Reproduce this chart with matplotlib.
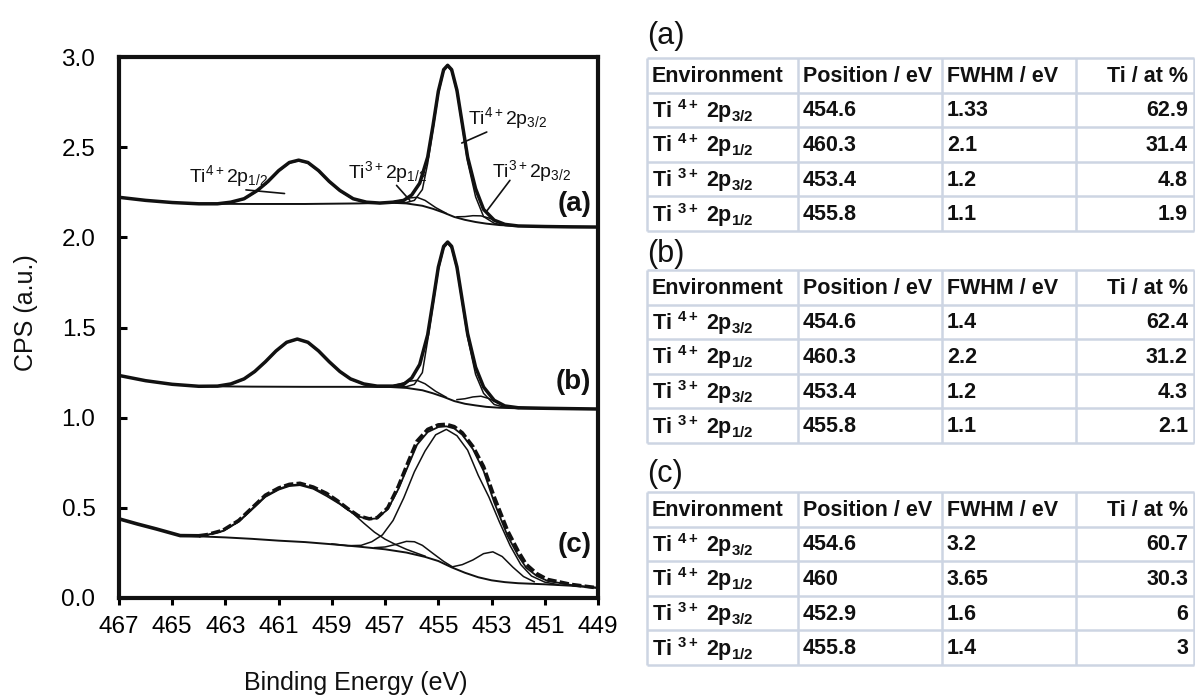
import numpy as np
import matplotlib
matplotlib.use("Agg")
import matplotlib.pyplot as plt

plt.rcParams.update({
    "font.family": ["Liberation Sans", "DejaVu Sans"],
    "mathtext.fontset": "custom",
    "mathtext.rm": "Liberation Sans",
    "mathtext.it": "Liberation Sans:italic",
    "mathtext.bf": "Liberation Sans:bold",
    "mathtext.default": "regular",
})

W, H = 1195, 698
INK = "#111111"
GRID_C = "#CDD5E3"

# --- spectrum (a) ---
A_DATA_E = [467.0, 466.0, 465.0, 464.0, 463.3, 462.8, 462.3, 461.8, 461.4, 461.0,
            460.6, 460.25, 459.9, 459.5, 459.1, 458.7, 458.2, 457.7, 457.2, 456.7,
            456.3, 456.0, 455.7, 455.4, 455.2, 455.0, 454.8, 454.65, 454.5, 454.3,
            454.1, 453.9, 453.6, 453.3, 452.9, 452.5, 452.0, 451.0, 450.0, 449.0]
A_DATA_V = [2.222, 2.205, 2.193, 2.186, 2.186, 2.195, 2.214, 2.26, 2.31, 2.37,
            2.415, 2.428, 2.415, 2.37, 2.31, 2.26, 2.214, 2.195, 2.19, 2.195,
            2.205, 2.235, 2.30, 2.445, 2.62, 2.81, 2.93, 2.954, 2.93, 2.815,
            2.63, 2.445, 2.27, 2.155, 2.095, 2.072, 2.063, 2.06, 2.058, 2.057]
A_BG_E = [463.5, 462.0, 460.0, 458.0, 456.8, 456.2, 455.6, 455.2, 454.8, 454.4,
          454.0, 453.6, 453.2, 452.7, 452.0, 449.0]
A_BG_V = [2.186, 2.185, 2.185, 2.188, 2.192, 2.188, 2.175, 2.158, 2.137, 2.113,
          2.097, 2.085, 2.076, 2.068, 2.063, 2.057]
A_P12_E = [462.8, 462.3, 461.8, 461.4, 461.0, 460.6, 460.25, 459.9, 459.5, 459.1,
           458.7, 458.2, 457.7]
A_P12_V = [2.193, 2.212, 2.257, 2.307, 2.367, 2.412, 2.425, 2.412, 2.367, 2.307,
           2.257, 2.212, 2.193]
A_P32_E = [456.6, 456.2, 455.9, 455.6, 455.4, 455.2, 455.0, 454.8, 454.65, 454.5,
           454.3, 454.1, 453.9, 453.6, 453.3, 452.9, 452.5, 452.0]
A_P32_V = [2.191, 2.193, 2.205, 2.265, 2.41, 2.60, 2.795, 2.922, 2.948, 2.922,
           2.805, 2.615, 2.42, 2.225, 2.115, 2.078, 2.066, 2.063]
A_T12_E = [456.7, 456.4, 456.1, 455.8, 455.5, 455.1, 454.7]
A_T12_V = [2.197, 2.205, 2.218, 2.222, 2.205, 2.165, 2.133]
A_T32_E = [454.3, 454.0, 453.7, 453.4, 453.1, 452.8, 452.5]
A_T32_V = [2.114, 2.115, 2.12, 2.119, 2.107, 2.088, 2.073]

# --- spectrum (b) ---
B_DATA_E = [467.0, 466.0, 465.0, 464.0, 463.3, 462.8, 462.3, 461.9, 461.5, 461.1,
            460.7, 460.3, 459.9, 459.5, 459.1, 458.7, 458.3, 457.8, 457.3, 456.7,
            456.3, 456.0, 455.7, 455.4, 455.2, 455.0, 454.8, 454.65, 454.5, 454.3,
            454.1, 453.9, 453.6, 453.3, 452.9, 452.5, 452.0, 451.0, 450.0, 449.0]
B_DATA_V = [1.234, 1.205, 1.185, 1.174, 1.175, 1.187, 1.215, 1.256, 1.31, 1.37,
            1.418, 1.436, 1.418, 1.37, 1.31, 1.256, 1.215, 1.187, 1.175, 1.175,
            1.185, 1.22, 1.295, 1.46, 1.645, 1.835, 1.95, 1.974, 1.95, 1.835,
            1.65, 1.466, 1.28, 1.17, 1.096, 1.065, 1.055, 1.052, 1.05, 1.048]
B_BG_E = [463.5, 462.0, 460.0, 458.0, 456.8, 456.2, 455.6, 455.2, 454.8, 454.4,
          454.0, 453.6, 453.2, 452.7, 452.0, 449.0]
B_BG_V = [1.174, 1.172, 1.171, 1.171, 1.17, 1.165, 1.152, 1.135, 1.115, 1.092,
          1.077, 1.068, 1.06, 1.055, 1.052, 1.048]
B_P12_E = [462.8, 462.3, 461.9, 461.5, 461.1, 460.7, 460.3, 459.9, 459.5, 459.1,
           458.7, 458.3, 457.8, 457.3]
B_P12_V = [1.185, 1.213, 1.254, 1.308, 1.368, 1.416, 1.434, 1.416, 1.368, 1.308,
           1.254, 1.213, 1.185, 1.173]
B_P32_E = [456.6, 456.2, 455.9, 455.6, 455.4, 455.2, 455.0, 454.8, 454.65, 454.5,
           454.3, 454.1, 453.9, 453.6, 453.3, 452.9, 452.5, 452.0]
B_P32_V = [1.17, 1.172, 1.185, 1.25, 1.43, 1.625, 1.82, 1.94, 1.966, 1.94,
           1.825, 1.635, 1.445, 1.24, 1.135, 1.073, 1.057, 1.052]
B_T12_E = [456.7, 456.4, 456.1, 455.8, 455.5, 455.1, 454.7]
B_T12_V = [1.177, 1.189, 1.202, 1.207, 1.188, 1.146, 1.113]
B_T32_E = [454.3, 454.0, 453.7, 453.4, 453.1, 452.8, 452.5]
B_T32_V = [1.100, 1.105, 1.115, 1.119, 1.106, 1.085, 1.066]

# --- spectrum (c) ---
C_DATA_E = [467.0, 466.3, 465.6, 464.7, 464.0, 463.7, 463.1, 462.5, 462.0, 461.5,
            461.0, 460.6, 460.2, 459.7, 459.2, 458.8, 458.4, 458.0, 457.6, 457.3,
            456.9, 456.5, 456.1, 455.8, 455.4, 455.0, 454.7, 454.4, 454.1, 453.7,
            453.3, 452.9, 452.4, 452.0, 451.7, 451.3, 450.9, 450.0, 449.0]
C_DATA_V = [0.439, 0.41, 0.383, 0.346, 0.345, 0.351, 0.375, 0.43, 0.50, 0.57,
            0.61, 0.63, 0.636, 0.615, 0.58, 0.54, 0.495, 0.455, 0.439, 0.445,
            0.50, 0.62, 0.766, 0.87, 0.935, 0.96, 0.963, 0.95, 0.916, 0.84,
            0.729, 0.56, 0.374, 0.26, 0.187, 0.135, 0.103, 0.075, 0.056]
C_ENV_E = [464.7, 464.0, 463.7, 463.1, 462.5, 462.0, 461.5, 461.0, 460.6, 460.2,
           459.7, 459.2, 458.8, 458.4, 458.0, 457.6, 457.3, 456.9, 456.5, 456.1,
           455.8, 455.4, 455.0, 454.7, 454.4, 454.1, 453.7, 453.3, 452.9, 452.4,
           452.0, 451.7, 451.3, 450.9, 450.0, 449.0]
C_ENV_V = [0.346, 0.345, 0.35, 0.372, 0.425, 0.495, 0.565, 0.605, 0.625, 0.63,
           0.61, 0.575, 0.535, 0.49, 0.452, 0.437, 0.442, 0.492, 0.605, 0.745,
           0.85, 0.92, 0.948, 0.952, 0.94, 0.905, 0.825, 0.705, 0.53, 0.345,
           0.235, 0.168, 0.122, 0.095, 0.072, 0.056]
C_BG_E = [464.7, 464.0, 463.0, 462.0, 461.0, 460.0, 459.0, 458.0, 457.0, 456.2,
          455.5, 455.0, 454.5, 454.0, 453.5, 453.0, 452.5, 452.0, 451.0, 450.0, 449.0]
C_BG_V = [0.346, 0.342, 0.336, 0.328, 0.318, 0.31, 0.298, 0.285, 0.27, 0.252,
          0.228, 0.205, 0.17, 0.14, 0.115, 0.098, 0.088, 0.082, 0.076, 0.068, 0.056]
C_P12_E = [464.5, 463.7, 463.1, 462.5, 462.0, 461.5, 461.0, 460.6, 460.2, 459.7,
           459.2, 458.7, 458.2, 457.8, 457.4, 457.0, 456.6, 456.2, 455.8, 455.5]
C_P12_V = [0.345, 0.349, 0.37, 0.422, 0.49, 0.56, 0.60, 0.62, 0.625, 0.605,
           0.565, 0.52, 0.468, 0.415, 0.365, 0.326, 0.296, 0.27, 0.248, 0.232]
C_P32_E = [459.0, 458.4, 457.9, 457.5, 457.1, 456.7, 456.3, 455.9, 455.5, 455.1,
           454.7, 454.3, 453.9, 453.5, 453.1, 452.7, 452.3, 451.9, 451.5, 451.0, 450.5]
C_P32_V = [0.30, 0.29, 0.292, 0.312, 0.35, 0.43, 0.555, 0.70, 0.815, 0.905,
           0.935, 0.90, 0.82, 0.68, 0.56, 0.42, 0.29, 0.185, 0.122, 0.088, 0.074]
C_T12_E = [457.4, 457.0, 456.6, 456.2, 455.9, 455.6, 455.2, 454.8, 454.45]
C_T12_V = [0.279, 0.283, 0.297, 0.314, 0.312, 0.292, 0.247, 0.203, 0.171]
C_T32_E = [454.5, 454.1, 453.7, 453.3, 452.95, 452.6, 452.2, 451.8, 451.4]
C_T32_V = [0.172, 0.185, 0.211, 0.246, 0.256, 0.23, 0.171, 0.119, 0.09]

X_TICKS = [467, 465, 463, 461, 459, 457, 455, 453, 451, 449]
Y_TICKS = [0.0, 0.5, 1.0, 1.5, 2.0, 2.5, 3.0]

# --- tables ---
HEADER = ["Environment", "Position / eV", "FWHM / eV", "Ti / at %"]
ENV = [r"Ti $^{\mathbf{4+}}$ 2p$_{3/2}$", r"Ti $^{\mathbf{4+}}$ 2p$_{1/2}$",
       r"Ti $^{\mathbf{3+}}$ 2p$_{3/2}$", r"Ti $^{\mathbf{3+}}$ 2p$_{1/2}$"]
POS_A = ["454.6", "460.3", "453.4", "455.8"]
FWHM_A = ["1.33", "2.1", "1.2", "1.1"]
AT_A = ["62.9", "31.4", "4.8", "1.9"]
POS_B = ["454.6", "460.3", "453.4", "455.8"]
FWHM_B = ["1.4", "2.2", "1.2", "1.1"]
AT_B = ["62.4", "31.2", "4.3", "2.1"]
POS_C = ["454.6", "460", "452.9", "455.8"]
FWHM_C = ["3.2", "3.65", "1.6", "1.4"]
AT_C = ["60.7", "30.3", "6", "3"]

fig = plt.figure(figsize=(W / 100, H / 100), dpi=100)

# table layer (pixel coordinates)
tax = fig.add_axes([0, 0, 1, 1])
tax.set_xlim(0, W)
tax.set_ylim(H, 0)
tax.axis("off")

COL_X = [647, 798, 942, 1076, 1194]
ROW_H = 34.6
tables = [("(a)", 36, 58, POS_A, FWHM_A, AT_A),
          ("(b)", 254, 270, POS_B, FWHM_B, AT_B),
          ("(c)", 474, 492, POS_C, FWHM_C, AT_C)]
for title, ty, top, pos, fw, at in tables:
    ys = top + ROW_H * np.arange(6)
    tax.hlines(ys, COL_X[0], COL_X[-1], color=GRID_C, lw=1.8)
    tax.vlines(COL_X, ys[0], ys[-1], color=GRID_C, lw=1.8)
    tax.text(COL_X[0], ty, title, fontsize=22, va="center", ha="left", color=INK)
    rows = [HEADER] + [[ENV[i], pos[i], fw[i], at[i]] for i in range(4)]
    for r, row in enumerate(rows):
        yc = (ys[r] + ys[r + 1]) / 2 + 1
        for c, txt in enumerate(row):
            if c == 3:
                tax.text(COL_X[4] - 6, yc, txt, ha="right", va="center",
                         fontsize=15.5, fontweight="bold", color=INK)
            else:
                tax.text(COL_X[c] + 5, yc, txt, ha="left", va="center",
                         fontsize=15.5, fontweight="bold", color=INK)

# spectra
ax = fig.add_axes([119 / W, 1 - 598 / H, (598 - 119) / W, (598 - 57) / H])
thin = dict(color=INK, lw=1.1)
for bg_e, bg_v, comps in [
        (A_BG_E, A_BG_V, [(A_P12_E, A_P12_V), (A_P32_E, A_P32_V), (A_T12_E, A_T12_V), (A_T32_E, A_T32_V)]),
        (B_BG_E, B_BG_V, [(B_P12_E, B_P12_V), (B_P32_E, B_P32_V), (B_T12_E, B_T12_V), (B_T32_E, B_T32_V)]),
        (C_BG_E, C_BG_V, [(C_P12_E, C_P12_V), (C_P32_E, C_P32_V), (C_T12_E, C_T12_V), (C_T32_E, C_T32_V)])]:
    ax.plot(bg_e, bg_v, color=INK, lw=1.4)
    for e, v in comps:
        ax.plot(e, v, **thin)

ax.plot(A_DATA_E, A_DATA_V, color=INK, lw=2.5, solid_joinstyle="round")
ax.plot(B_DATA_E, B_DATA_V, color=INK, lw=2.5, solid_joinstyle="round")
ax.plot(C_ENV_E, C_ENV_V, color=INK, lw=1.3)
ax.plot(C_DATA_E[:5], C_DATA_V[:5], color=INK, lw=2.6)
ax.plot(C_DATA_E[4:], C_DATA_V[4:], color=INK, lw=2.6, ls=(0, (2.6, 0.9)))

# peak labels with leader lines
lab = dict(fontsize=14, color=INK, va="baseline", ha="left")
ax.text(464.37, 2.308, r"Ti$^{4+}$2p$_{1/2}$", **lab)
ax.text(458.39, 2.33, r"Ti$^{3+}$2p$_{1/2}$", **lab)
ax.text(453.88, 2.63, r"Ti$^{4+}$2p$_{3/2}$", **lab)
ax.text(453.0, 2.335, r"Ti$^{3+}$2p$_{3/2}$", **lab)
lead = dict(arrowprops=dict(arrowstyle="-", color=INK, lw=1.2, shrinkA=0, shrinkB=0))
ax.annotate("", xy=(460.78, 2.243), xytext=(462.23, 2.263), **lead)
ax.annotate("", xy=(456.07, 2.205), xytext=(456.57, 2.288), **lead)
ax.annotate("", xy=(454.12, 2.523), xytext=(453.18, 2.584), **lead)
ax.annotate("", xy=(453.18, 2.146), xytext=(452.31, 2.316), **lead)

pan = dict(fontsize=20, fontweight="bold", color=INK, ha="right", va="center")
ax.text(449.25, 2.185, "(a)", **pan)
ax.text(449.25, 1.198, "(b)", **pan)
ax.text(449.25, 0.295, "(c)", **pan)

ax.set_xlim(467, 449)
ax.set_ylim(0, 3.0)
ax.set_xticks(X_TICKS)
ax.set_xticklabels([str(t) for t in X_TICKS])
ax.set_yticks(Y_TICKS)
ax.set_yticklabels([f"{t:.1f}" for t in Y_TICKS])
ax.tick_params(axis="x", direction="out", length=5, width=2.2, labelsize=17.5, pad=8)
ax.tick_params(axis="y", direction="in", length=6, width=2.2, labelsize=17.5, pad=17)
for s in ax.spines.values():
    s.set_linewidth(3.0)
    s.set_color(INK)
ax.patch.set_alpha(0)

fig.text(26 / W, 1 - 313 / H, "CPS (a.u.)", rotation=90, fontsize=18,
         ha="center", va="center", color=INK)
fig.text(356 / W, 1 - 683 / H, "Binding Energy (eV)", fontsize=18,
         ha="center", va="center", color=INK)

fig.savefig("out.png", dpi=100)
